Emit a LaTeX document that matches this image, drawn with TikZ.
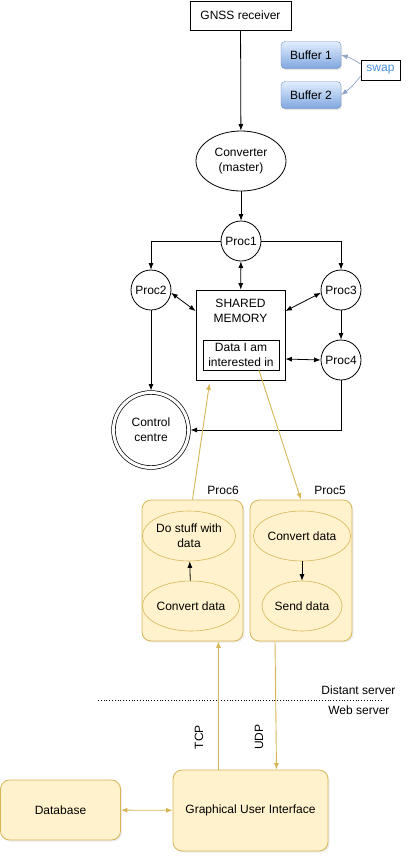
\documentclass[tikz,border=0pt]{standalone}
\usepackage{fontspec}
\setmainfont{Liberation Sans}
\usepackage{xcolor}
\usetikzlibrary{calc, shapes.geometric, positioning, shadows, arrows.meta}

\definecolor{noteFill}{HTML}{FFF2CC}
\definecolor{noteLine}{HTML}{D6B656}
\definecolor{bufTop}{HTML}{E3EEFD}
\definecolor{bufBottom}{HTML}{7EA6E0}
\definecolor{bufLine}{HTML}{6C8EBF}
\definecolor{swapText}{HTML}{4A90D9}
\definecolor{swapLine}{HTML}{8FA3C8}

\tikzset{
    box/.style={draw, rectangle, inner sep=0pt, line width=0.8pt},
    proc/.style={draw, circle, minimum size=40pt, inner sep=0pt, line width=0.8pt},
    oval/.style={draw, ellipse, inner sep=0pt, align=center, line width=0.8pt},
    buffer/.style={draw=bufLine, rectangle, rounded corners=4pt, top color=bufTop, bottom color=bufBottom,
        minimum width=60pt, minimum height=27pt, inner sep=0pt,
        drop shadow={opacity=0.2, shadow xshift=1pt, shadow yshift=-1.5pt}},
    note/.style={draw=noteLine, fill=noteFill, rectangle, rounded corners=9pt, inner sep=0pt, line width=0.8pt,
        drop shadow={opacity=0.15, shadow xshift=1.5pt, shadow yshift=-1.5pt}},
    noteoval/.style={draw=noteLine, fill=noteFill, ellipse, inner sep=0pt, align=center, line width=0.6pt},
    link/.style={line width=0.8pt},
    gold/.style={draw=noteLine, line width=0.9pt},
}

\begin{document}
\begin{tikzpicture}[>={Latex[length=6.5pt, width=5pt]}, x=1pt, y=-1pt, font=\fontsize{12}{15}\selectfont]
    \useasboundingbox (0,0) rectangle (408,857);

    % Source and buffers
    \node[box, minimum width=101pt, minimum height=29pt] (gnss) at (240.5,15.5) {GNSS receiver};
    \node[buffer] (buf1) at (311,55) {Buffer 1};
    \node[buffer] (buf2) at (311,95) {Buffer 2};
    \node[box, line width=0.6pt, minimum width=39pt, minimum height=20pt, text=swapText] (swap) at (380.5,70) {swap};
    \draw[->, swapLine, line width=0.7pt] ([yshift=6pt]swap.west) to[bend right=8] (buf1.east);
    \draw[->, swapLine, line width=0.7pt] ([yshift=-6pt]swap.west) to[bend left=8] (buf2.east);

    % Processes around the shared memory
    \node[oval, minimum width=90pt, minimum height=60pt] (conv) at (241,161) {Converter\\(master)};
    \node[proc] (proc1) at (241,241) {Proc1};
    \node[proc] (proc2) at (151,290) {Proc2};
    \node[proc] (proc3) at (341,290) {Proc3};
    \node[proc] (proc4) at (341,360) {Proc4};
    \node[box, minimum width=89pt, minimum height=90pt] (memory) at (240.5,335) {};
    \node[align=center] (memtext) at (240.5,310.5) {SHARED\\MEMORY};
    \node[box, align=center, minimum width=76pt, minimum height=30pt] (data) at (241,355) {Data I am\\interested in};
    \node[draw, circle, double, double distance=3pt, line width=0.7pt, minimum size=75pt, inner sep=0pt,
        outer sep=2pt, align=center] (control) at (151,430) {Control\\centre};

    \draw[->, link] (gnss) -- (conv);
    \draw[->, link] (conv) -- (proc1);
    \draw[->, link] (proc1.west) -| (proc2.north);
    \draw[->, link] (proc1.east) -| (proc3.north);
    \draw[<->, link] (proc1) -- (memory);
    \draw[<->, link] (proc2.-8) -- ([yshift=24pt]memory.west);
    \draw[<->, link] ([yshift=24pt]memory.east) -- (proc3.188);
    \draw[->, link] (proc3) -- (proc4);
    \draw[<->, link] ([yshift=-24pt]memory.east) -- (proc4.west);
    \draw[->, link] (proc2) -- (control);
    \draw[->, link] (proc4.south) |- (control.east);

    % Distant server processes
    \node[note, minimum width=101pt, minimum height=141pt] (proc6) at (192.5,570.5) {};
    \node[note, minimum width=102pt, minimum height=141pt] (proc5) at (301,570.5) {};
    \node (proc6text) at (223,490) {Proc6};
    \node (proc5text) at (330,490) {Proc5};
    \node[noteoval, minimum width=76pt, minimum height=50pt] (stuff) at (189,536) {Do stuff with\\data};
    \node[noteoval, minimum width=80pt, minimum height=50pt] (conv6) at (191,606) {Convert data};
    \node[noteoval, minimum width=80pt, minimum height=50pt] (conv5) at (302,536) {Convert data};
    \node[noteoval, minimum width=80pt, minimum height=50pt] (send) at (302,606) {Send data};
    \draw[->, link] (conv6) -- (stuff);
    \draw[->, link] (conv5) -- (send);

    \draw[->, gold] (proc6.north) -- ([xshift=-31pt, yshift=-3pt]memory.south);
    \draw[->, gold] ([xshift=18pt]data.south) -- (proc5.north);

    % Server boundary
    \draw[dotted, line width=0.8pt] (98,700) -- (382,700);
    \node[anchor=east] (distant) at (399,690) {Distant server};
    \node[anchor=east] (web) at (393,710) {Web server};

    % Web server side
    \node[note, minimum width=120pt, minimum height=60pt] (db) at (60.5,810) {Database};
    \node[note, minimum width=155pt, minimum height=81pt] (gui) at (250.5,810.5) {Graphical User Interface};
    \draw[->, gold] ([xshift=-32pt]gui.north) -- ([xshift=-32pt]gui.north |- proc6.south);
    \draw[->, gold] ([xshift=-26pt]proc5.south) -- ([xshift=26pt]gui.north);
    \draw[<->, gold] (db) -- (gui);
    \node[rotate=90] (tcp) at (199,737) {TCP};
    \node[rotate=90] (udp) at (259,737) {UDP};
\end{tikzpicture}
\end{document}
